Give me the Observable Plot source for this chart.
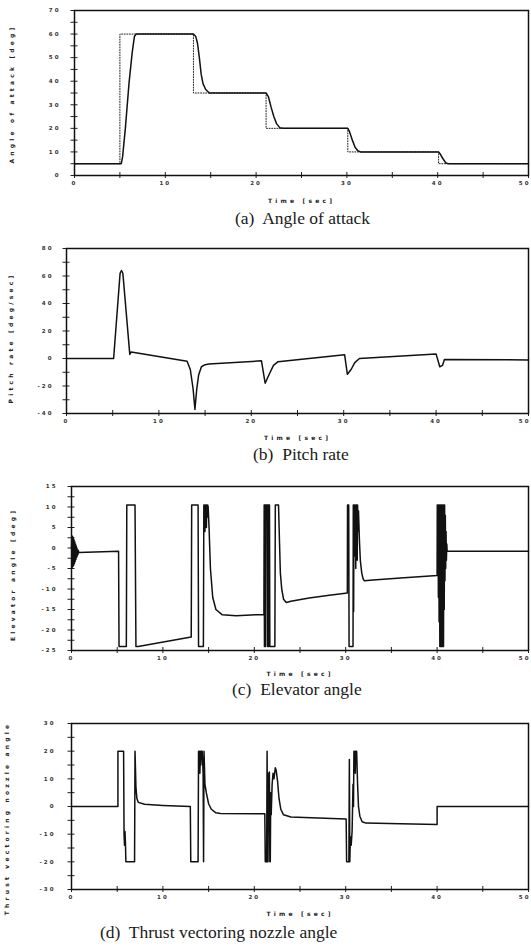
<!DOCTYPE html>
<html><head><meta charset="utf-8">
<script src="https://cdn.jsdelivr.net/npm/d3@7"></script>
<script src="https://cdn.jsdelivr.net/npm/@observablehq/plot@0.6"></script>
<style>
html,body{margin:0;padding:0;background:#fff;}
#wrap{position:relative;width:531px;height:950px;overflow:hidden;background:#fff;}
.panel{position:absolute;left:0;}
.cap{position:absolute;font-family:"Liberation Serif",serif;font-size:17.5px;color:#1a1a1a;white-space:pre;line-height:1;}
svg [aria-label="y-axis tick label"] text, svg [aria-label="x-axis tick label"] text {letter-spacing:2px;}
svg [aria-label="text"] text {letter-spacing:3.2px;}
</style></head><body><div id="wrap"></div><script>
// shared x axis
const xTicks = [0, 10, 20, 30, 40];
const xLastTick = [50];
const xMinor = [5, 15, 25, 35, 45];

// (a) Angle of attack
const aoaTicks = [0, 10, 20, 30, 40, 50, 60, 70];
const aoaMinor = [5, 15, 25, 35, 45, 55, 65];
const aoaCommand = [[0,5],[5.0,5],[5.0,60],[13.1,60],[13.1,35],[21.1,35],[21.1,20],[30.1,20],[30.1,10],[40.1,10],[40.1,5],[50,5]];
const aoaResponse = [[0,5],[5.15,5],[5.3,8],[5.6,20],[6.0,39],[6.35,52],[6.6,59],[6.8,60],[13.1,60],[13.35,59],[13.55,56],[13.75,50],[13.95,43],[14.15,39],[14.45,36.5],[14.85,35],[21.1,35],[21.35,33.5],[21.65,29],[21.95,25],[22.25,22],[22.6,20.3],[23.0,20],[30.1,20],[30.3,18.5],[30.6,15],[30.9,12],[31.2,10.5],[31.5,10],[40.1,10],[40.3,9],[40.6,7],[40.9,5.3],[41.2,5],[50,5]];

// (b) Pitch rate
const pitchTicks = [-40, -20, 0, 20, 40, 60, 80];
const pitchMinor = [-30, -10, 10, 30, 50, 70];
const pitchRate = [[0,0],[5.1,0],[5.8,62],[5.95,64],[6.1,62],[6.85,3],[7.0,4.8],[13.05,-2],[13.4,-8],[13.7,-22],[13.9,-37],[14.1,-22],[14.3,-12],[14.6,-6],[15.0,-4.5],[15.4,-4],[21.1,-1.7],[21.5,-18],[21.9,-12],[22.4,-5],[22.9,-2.3],[30.1,2.7],[30.4,-11.5],[30.8,-8],[31.2,-3],[31.7,0],[40.0,3.2],[40.4,-6],[40.7,-5],[40.9,-0.8],[50,-1]];

// (c) Elevator angle
const elevTicks = [-25, -20, -15, -10, -5, 0, 5, 10, 15];
const elevMinor = [-22.5, -17.5, -12.5, -7.5, -2.5, 2.5, 7.5, 12.5];
const elevator = [[0,0],[0.04,3],[0.08,-4.7],[0.12,2.8],[0.16,-4.5],[0.2,2.5],[0.24,-4.2],[0.28,2],[0.32,-3.8],[0.36,1.5],[0.4,-3.3],[0.44,1],[0.48,-2.8],[0.52,0.5],[0.56,-2.3],[0.6,0],[0.64,-1.9],[0.68,-0.4],[0.72,-1.5],[0.76,-0.7],[0.8,-1.1],
 [5.15,-0.8],[5.2,-24],[6.0,-24],[6.05,10.5],[6.95,10.5],[7.05,-24],[7.3,-24],[13.1,-21.7],[13.15,10.5],[13.85,10.5],[13.9,-24],[14.43,-24],[14.48,10.5],[14.52,6],[14.56,10.5],[14.6,4],[14.64,10.5],[14.68,7],[14.72,10.5],[14.76,5],[14.8,10.5],[14.84,7.5],[14.9,10.5],[14.95,10],[15.05,5],[15.2,-5],[15.45,-12],[15.8,-15],[16.5,-16.3],[18,-16.5],[21.05,-16.2],
 [21.08,10.5],[21.11,-24],[21.14,10.5],[21.17,-24],[21.2,10.5],[21.23,-24],[21.26,10.5],[21.42,10.5],[21.45,-24],[21.48,10.5],[21.51,-24],[21.54,10.5],[21.57,-24],[21.6,10.5],[21.63,-4],[21.66,10.5],[21.7,-24],[22.25,-24],[22.3,10.5],[22.65,10.5],[22.75,2],[22.85,-6],[23.0,-10],[23.2,-12.5],[23.5,-13.3],[24,-13],[26,-12.2],[28,-11.6],[30.18,-11],
 [30.2,10.5],[30.33,10.5],[30.37,-24],[30.8,-24],[30.83,10.5],[30.87,-15.5],[30.9,10.5],[30.94,-2],[30.98,10.5],[31.02,0],[31.06,10.5],[31.1,-5],[31.14,10.5],[31.18,2],[31.22,10.5],[31.26,-3],[31.3,10.5],[31.35,4],[31.4,9],[31.5,2],[31.6,-3],[31.75,-6],[31.9,-7.5],[32.05,-8],[33,-7.8],[36,-7.3],[40.0,-6.7],
 [40.02,10.5],[40.06,-6],[40.1,10.5],[40.14,-12],[40.18,10.5],[40.22,-18],[40.26,10.5],[40.3,-24],[40.34,10.5],[40.38,-24],[40.42,10.5],[40.46,-24],[40.5,10.5],[40.54,-24],[40.58,10.5],[40.62,-24],[40.66,10.5],[40.7,-24],[40.74,10.5],[40.78,-15],[40.82,10.5],[40.86,-8],[40.9,8],[40.94,-5],[40.98,4],[41.02,-3],[41.06,1],[41.1,-0.8],[50,-0.8]];

// (d) Thrust vectoring nozzle angle
const nozzleTicks = [-30, -20, -10, 0, 10, 20, 30];
const nozzleMinor = [-25, -15, -5, 5, 15, 25];
const nozzle = [[0,0],[5.08,0],[5.08,20],[5.7,20],[5.75,-10],[5.8,-14],[5.85,-9],[5.9,-13],[5.95,-20],[6.9,-20],[6.95,20],[7.05,7],[7.15,3],[7.3,1.5],[8,0.8],[10,0.4],[13.0,0],
 [13.05,-20],[13.85,-20],[13.9,20],[13.95,14],[14.0,20],[14.05,12],[14.1,20],[14.15,15],[14.2,20],[14.3,20],[14.4,12],[14.45,-20],[14.5,20],[14.6,8],[14.75,5],[15.0,1],[15.3,-1],[15.8,-2.3],[16.3,-2.5],[21.15,-2.6],
 [21.2,-20],[21.35,-20],[21.4,20],[21.45,-20],[21.5,-20],[21.55,12],[21.6,-3],[21.65,12.5],[21.7,-20],[21.75,-20],[21.8,5],[21.85,-3],[21.95,8],[22.05,12],[22.15,10],[22.3,14],[22.4,13],[22.55,9],[22.7,3],[22.9,-1],[23.2,-3],[24,-3.8],[27,-4.2],[30.05,-4.5],
 [30.1,-20],[30.35,-20],[30.4,17],[30.45,-20],[30.5,-13],[30.55,-11],[30.6,-14],[30.7,-9],[30.8,8],[30.85,0],[30.9,20],[30.95,14],[31.0,20],[31.05,12],[31.1,20],[31.2,20],[31.3,8],[31.4,0],[31.55,-3.5],[31.8,-5.5],[32.2,-6],[36,-6.2],[40.0,-6.5],[40.0,0],[50,0]];

function panel(o) {
  const lab = {tickSize: 0, fontSize: 5.5, fontWeight: "bold", fill: "#333", tickFormat: d => String(d), label: null};
  const marks = [
    Plot.axisY(o.yTicks.concat(o.yMinor), {tickSize: 7, dx: 3.5, tickFormat: () => "", label: null, stroke: "#222", strokeWidth: 1}),
    Plot.axisY(o.yTicks, {...lab, tickPadding: o.ypad}),
    Plot.axisX(xTicks.concat(xLastTick, xMinor), {tickSize: 6, dy: -3, tickFormat: () => "", label: null, stroke: "#222", strokeWidth: 1}),
    Plot.axisX(xTicks, {...lab, tickPadding: 6}),
    Plot.axisX(xLastTick, {...lab, tickPadding: 6, textAnchor: "end", dx: 2}),
    Plot.text(["Time [sec]"], {frameAnchor: "bottom", dy: o.xlabelDy, fontSize: 6, fontWeight: "bold", fill: "#222"}),
    Plot.text([o.ylabel], {frameAnchor: "left", textAnchor: "middle", dx: o.ylabelDx, dy: o.ylabelDy, rotate: -90, fontSize: 6, fontWeight: "bold", fill: "#222"})
  ];
  if (o.dotted) marks.push(Plot.line(o.dotted, {x: d => d[0], y: d => d[1], stroke: "#222", strokeWidth: 1, strokeDasharray: "1,1.6"}));
  marks.push(Plot.line(o.series, {x: d => d[0], y: d => d[1], stroke: "#111", strokeWidth: 1.5}));
  marks.push(Plot.frame({stroke: "#111", strokeWidth: 1.5}));
  const chart = Plot.plot({
    width: 531, height: o.height,
    marginTop: o.marginTop, marginBottom: o.marginBottom, marginLeft: o.marginLeft, marginRight: 3,
    x: {domain: [0, 50]},
    y: {domain: o.yDomain},
    style: {background: "white", color: "#111", fontFamily: "DejaVu Sans"},
    marks
  });
  const div = document.createElement("div");
  div.className = "panel";
  div.style.top = o.top + "px";
  div.appendChild(chart);
  document.getElementById("wrap").appendChild(div);
  const cap = document.createElement("div");
  cap.className = "cap";
  cap.textContent = o.caption;
  cap.style.top = o.capTop + "px";
  cap.style.left = o.capLeft + "px";
  document.getElementById("wrap").appendChild(cap);
}

panel({series: aoaResponse, dotted: aoaCommand, yDomain: [0, 70], yTicks: aoaTicks, yMinor: aoaMinor,
  top: 0, height: 215, marginTop: 10, marginBottom: 40, marginLeft: 74, ypad: 14,
  ylabel: "Angle of attack [deg]", ylabelDx: -62, ylabelDy: 1, xlabelDy: 27,
  caption: "(a)  Angle of attack", capTop: 210, capLeft: 235});

panel({series: pitchRate, yDomain: [-40, 80], yTicks: pitchTicks, yMinor: pitchMinor,
  top: 230, height: 218, marginTop: 18, marginBottom: 35, marginLeft: 66, ypad: 13,
  ylabel: "Pitch rate [deg/sec]", ylabelDx: -55, ylabelDy: 7, xlabelDy: 26,
  caption: "(b)  Pitch rate", capTop: 446, capLeft: 253});

panel({series: elevator, yDomain: [-25, 15], yTicks: elevTicks, yMinor: elevMinor,
  top: 470, height: 215, marginTop: 16, marginBottom: 35, marginLeft: 71, ypad: 14,
  ylabel: "Elevator angle [deg]", ylabelDx: -58, ylabelDy: 6, xlabelDy: 25,
  caption: "(c)  Elevator angle", capTop: 681, capLeft: 232});

panel({series: nozzle, yDomain: [-30, 30], yTicks: nozzleTicks, yMinor: nozzleMinor,
  top: 710, height: 214, marginTop: 13, marginBottom: 35, marginLeft: 71, ypad: 16,
  ylabel: "Thrust vectoring nozzle angle", ylabelDx: -64, ylabelDy: 12, xlabelDy: 26,
  caption: "(d)  Thrust vectoring nozzle angle", capTop: 924, capLeft: 100});
</script></body></html>
